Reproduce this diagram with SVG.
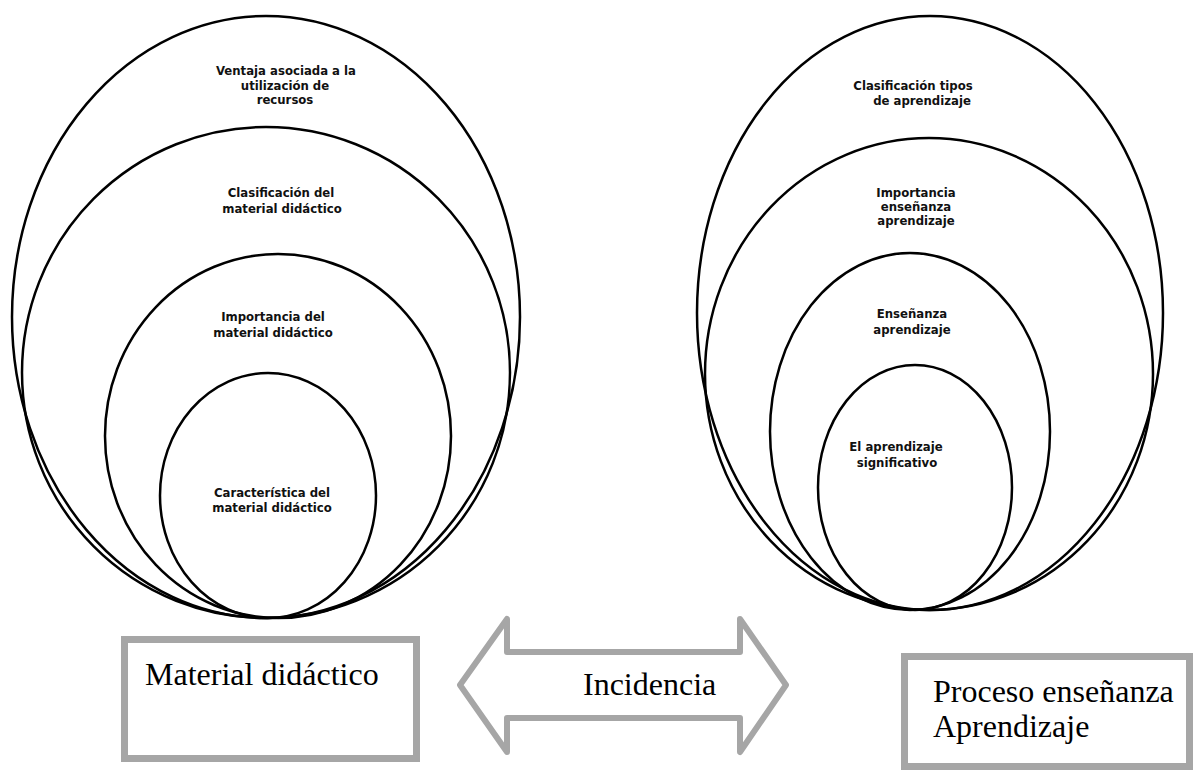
<svg xmlns="http://www.w3.org/2000/svg" width="1196" height="773" viewBox="0 0 1196 773">
<style>
.e{fill:none;stroke:#000;stroke-width:2.5}
.s{font-family:"DejaVu Sans Condensed","DejaVu Sans",sans-serif;font-weight:bold;font-size:13px;fill:#111;text-anchor:middle}
.b{fill:#fff;stroke:#a6a6a6;stroke-width:7}
.t{font-family:"Liberation Serif","Times New Roman",serif;font-size:32px;fill:#000}
</style>
<rect width="1196" height="773" fill="#fff"/>
<g id="left-ellipses">
<g id="l1"><ellipse class="e" cx="266" cy="317" rx="254" ry="301"/>
<text class="s" x="286" y="75">Ventaja asociada a la</text><text class="s" x="285" y="89.5">utilización de</text><text class="s" x="285" y="104">recursos</text></g>
<g id="l2"><ellipse class="e" cx="266" cy="372.5" rx="244" ry="245.5"/>
<text class="s" x="281" y="197">Clasificación del</text><text class="s" x="282" y="213">material didáctico</text></g>
<g id="l3"><ellipse class="e" cx="278" cy="436" rx="173" ry="182"/>
<text class="s" x="273" y="321">Importancia del</text><text class="s" x="273" y="337">material didáctico</text></g>
<g id="l4"><ellipse class="e" cx="268" cy="495.5" rx="108" ry="122.5"/>
<text class="s" x="272" y="497">Característica del</text><text class="s" x="272" y="512">material didáctico</text></g>
</g>
<g id="right-ellipses">
<g id="r1"><ellipse class="e" cx="930" cy="313" rx="233" ry="297"/>
<text class="s" x="913" y="90">Clasificación tipos</text><text class="s" x="922" y="105">de aprendizaje</text></g>
<g id="r2"><ellipse class="e" cx="929" cy="374" rx="224" ry="236"/>
<text class="s" x="916" y="197">Importancia</text><text class="s" x="916" y="211">enseñanza</text><text class="s" x="916" y="225">aprendizaje</text></g>
<g id="r3"><ellipse class="e" cx="910" cy="431.5" rx="140" ry="178.5"/>
<text class="s" x="912" y="318">Enseñanza</text><text class="s" x="912" y="334">aprendizaje</text></g>
<g id="r4"><ellipse class="e" cx="915" cy="487.5" rx="97" ry="122.5"/>
<text class="s" x="896" y="451">El aprendizaje</text><text class="s" x="897" y="467">significativo</text></g>
</g>
<g id="box-material">
<rect class="b" x="124.5" y="639.5" width="292" height="119"/>
<text class="t" x="145" y="685">Material didáctico</text>
</g>
<g id="connectors">
<path d="M460 685 L507 619 L507 652 L740 652 L740 619 L786 685 L740 752 L740 718 L507 718 L507 752 Z" fill="#fff" stroke="#a6a6a6" stroke-width="6" stroke-linejoin="round"/>
<text class="t" x="583" y="695">Incidencia</text>
</g>
<g id="box-proceso">
<rect class="b" x="904.5" y="656.5" width="285" height="110"/>
<text class="t" x="933" y="702">Proceso enseñanza</text>
<text class="t" x="933" y="737">Aprendizaje</text>
</g>
</svg>
